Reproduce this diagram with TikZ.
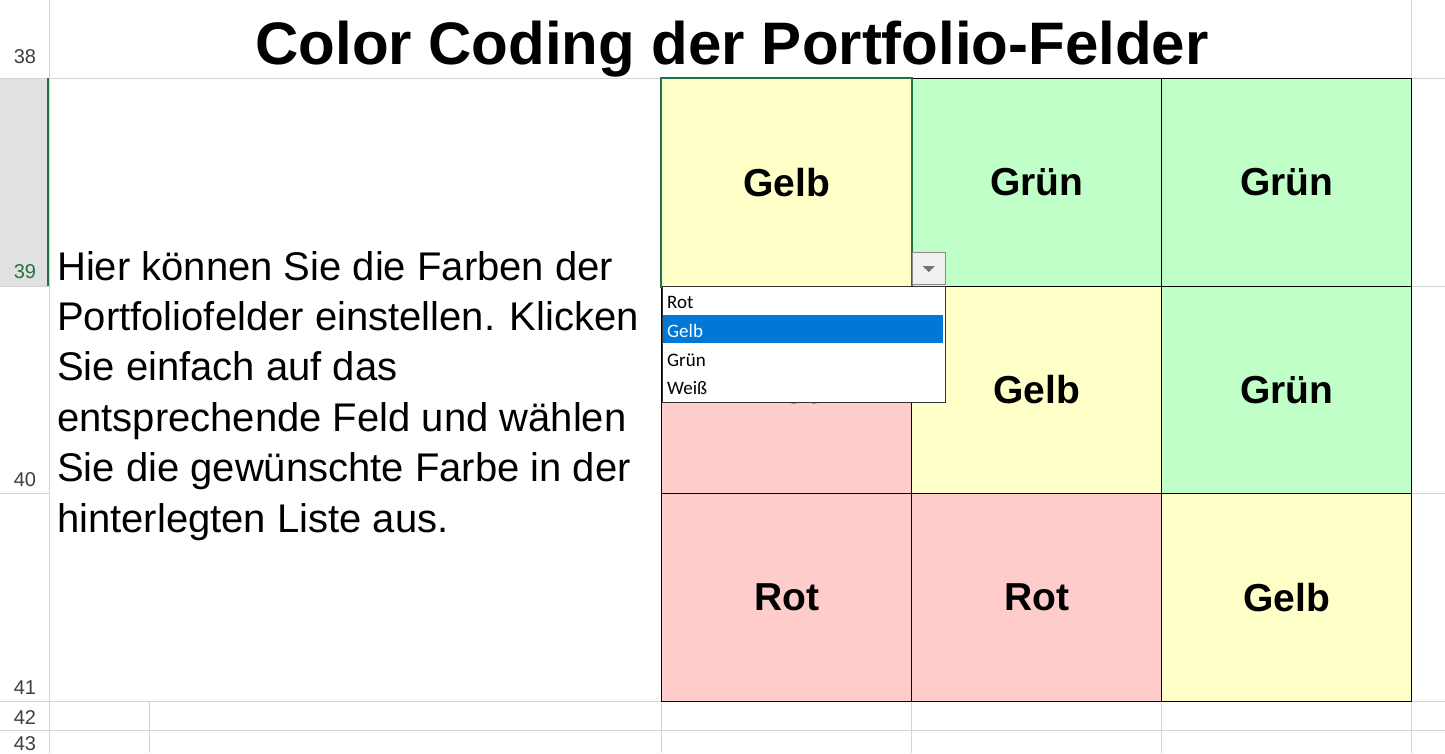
\documentclass[tikz,border=0pt]{standalone}
\usepackage{fontspec}
\setmainfont{Liberation Sans}
\newfontfamily\ddfont{Carlito}
\definecolor{cy}{HTML}{FFFFC8}
\definecolor{cg}{HTML}{C0FFC8}
\definecolor{cr}{HTML}{FFCCCC}
\definecolor{grid}{HTML}{D4D4D4}
\definecolor{selgreen}{HTML}{217346}
\definecolor{selblue}{HTML}{0078D7}
\definecolor{hdrgray}{HTML}{E1E1E1}
\begin{document}
\begin{tikzpicture}[x=1pt,y=-1pt,
  cell/.style={draw=black,line width=1.2pt,minimum width=250pt,minimum height=207.5pt,anchor=north west,inner sep=0pt,font=\fontsize{39}{42}\selectfont\bfseries},
  rownum/.style={anchor=base,font=\fontsize{20}{22}\selectfont,text=black!75},
  dditem/.style={anchor=base west,font=\ddfont\fontsize{19}{21}\selectfont,inner sep=0pt}]
\useasboundingbox (0,0) rectangle (1445,753);
\fill[white] (0,0) rectangle (1445,753);
% header column highlight
\fill[hdrgray] (0,78) rectangle (48,286);
% grid lines
\foreach \y in {78,701,730} \draw[grid] (0,\y) -- (1445,\y);
\foreach \y in {286,493} {\draw[grid] (0,\y) -- (49,\y); \draw[grid] (661,\y) -- (1445,\y);}
\draw[grid] (49,0) -- (49,753);
\draw[grid] (1411,0) -- (1411,78);
\foreach \x in {149,661,911,1161,1411} \draw[grid] (\x,701) -- (\x,753);
\draw[selgreen,line width=1.5pt] (48,78) -- (48,286);
\node[rownum] (r38) at (25,63) {38};
\node[rownum,text=selgreen] (r39) at (25,278) {39};
\node[rownum] (r40) at (25,486) {40};
\node[rownum] (r41) at (25,694) {41};
\node[rownum] (r42) at (25,724) {42};
\node[rownum] (r43) at (25,750) {43};
% title
\node[anchor=base,font=\fontsize{60}{64}\selectfont\bfseries] (title) at (732,64) {Color Coding der Portfolio-Felder};
% text
\node[anchor=north west,align=left,inner sep=0pt,font=\fontsize{40}{50.4}\selectfont] (txt) at (57,251) {Hier können Sie die Farben der\\Portfoliofelder einstellen. Klicken\\Sie einfach auf das\\entsprechende Feld und wählen\\Sie die gewünschte Farbe in der\\hinterlegten Liste aus.};
% cells
\node[cell,fill=cy] (c11) at (661,78) {Gelb};
\node[cell,fill=cg] (c12) at (911,78) {Grün};
\node[cell,fill=cg] (c13) at (1161,78) {Grün};
\node[cell,fill=cr] (c21) at (661,285.5) {Rot};
\node[cell,fill=cy] (c22) at (911,285.5) {Gelb};
\node[cell,fill=cg] (c23) at (1161,285.5) {Grün};
\node[cell,fill=cr] (c31) at (661,493) {Rot};
\node[cell,fill=cr] (c32) at (911,493) {Rot};
\node[cell,fill=cy] (c33) at (1161,493) {Gelb};
% selection
\draw[selgreen,line width=2pt] (c11.north west) rectangle (c11.south east);
% dropdown button
\node[draw=black!45,fill=black!6,minimum width=33pt,minimum height=32pt,anchor=north west,inner sep=0pt] (btn) at (912,252) {};
\fill[black!55] ([xshift=-6pt,yshift=2pt]btn.center) -- ([xshift=6pt,yshift=2pt]btn.center) -- ([yshift=-4pt]btn.center) -- cycle;
% dropdown list
\node[draw=black!80,fill=white,line width=0.8pt,minimum width=283pt,minimum height=116pt,anchor=north west,inner sep=0pt] (dd) at (662,286) {};
\fill[selblue] (663,315) rectangle (943,343);
\node[dditem] (i1) at (667,308) {Rot};
\node[dditem,text=white] (i2) at (667,337) {Gelb};
\node[dditem] (i3) at (667,366) {Grün};
\node[dditem] (i4) at (667,394) {Weiß};
\end{tikzpicture}
\end{document}
